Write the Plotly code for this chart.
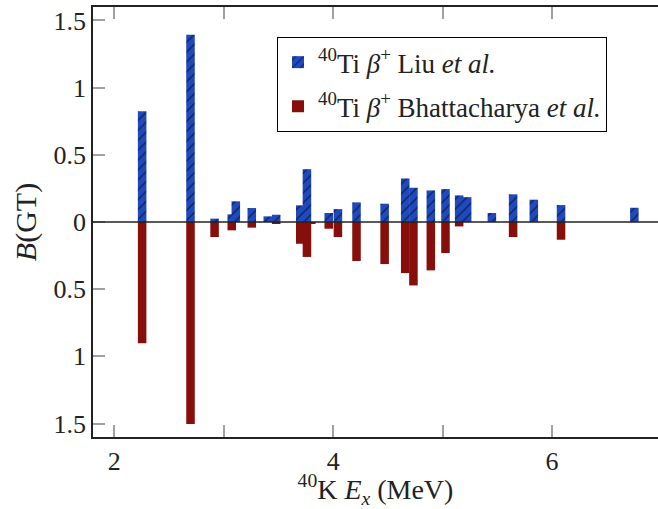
import plotly.graph_objects as go

# Excitation energies (MeV) and B(GT) values
liu_ex = [2.254, 2.696, 2.916, 3.073, 3.110, 3.256, 3.402, 3.479, 3.699, 3.760,
          3.959, 4.043, 4.213, 4.470, 4.658, 4.733, 4.892, 5.026, 5.151, 5.224,
          5.450, 5.644, 5.833, 6.082, 6.752]
liu_bgt = [0.824, 1.393, 0.025, 0.057, 0.154, 0.104, 0.042, 0.054, 0.124, 0.393,
           0.067, 0.096, 0.146, 0.136, 0.324, 0.255, 0.235, 0.245, 0.198, 0.185,
           0.067, 0.206, 0.166, 0.126, 0.106]

bh_ex = [2.254, 2.696, 2.916, 3.073, 3.256, 3.479, 3.699, 3.800, 3.760, 3.959,
         4.043, 4.213, 4.470, 4.658, 4.733, 4.892, 5.026, 5.151, 5.644, 6.082]
bh_bgt = [0.903, 1.503, 0.112, 0.062, 0.042, 0.010, 0.162, 0.012, 0.260, 0.050,
          0.112, 0.290, 0.313, 0.380, 0.472, 0.360, 0.231, 0.033, 0.112, 0.132]

x_tickvals = [2, 3, 4, 5, 6, 7]
x_ticktext = ["2", "", "4", "", "6", ""]
y_tickvals = [-1.5, -1.0, -0.5, 0, 0.5, 1.0, 1.5]
y_ticktext = ["1.5", "1", "0.5", "0", "0.5", "1", "1.5"]

BLUE = "#1f49bd"
RED = "#870f0b"
FONT = "Liberation Serif"
BAR_W = 0.078

fig = go.Figure()
fig.add_trace(go.Bar(
    x=liu_ex, y=liu_bgt, width=BAR_W,
    name="<sup>40</sup>Ti <i>β</i><sup>+</sup> Liu <i>et al.</i>",
    legendgroup="a",
    marker=dict(color=BLUE, line=dict(width=0),
                pattern=dict(shape="/", fgcolor="black", bgcolor=BLUE,
                             size=7, solidity=0.2, fillmode="overlay")),
))
fig.add_trace(go.Bar(
    x=bh_ex, y=[-v for v in bh_bgt], width=BAR_W,
    name="<sup>40</sup>Ti <i>β</i><sup>+</sup> Bhattacharya <i>et al.</i>",
    legendgroup="b",
    marker=dict(color=RED, line=dict(width=0)),
))

tickfont = dict(family=FONT, size=26, color="#222")
fig.update_layout(
    width=658, height=509,
    margin=dict(l=93, r=0, t=7, b=72),
    paper_bgcolor="white", plot_bgcolor="white",
    barmode="overlay",
    font=dict(family=FONT, color="#222"),
    showlegend=True,
    legend=dict(x=0.3257, y=0.93, xanchor="left", yanchor="top",
                bordercolor="black", borderwidth=1, bgcolor="white",
                font=dict(family=FONT, size=27, color="#222"),
                tracegroupgap=6, itemwidth=30),
    xaxis=dict(range=[1.805, 6.968], tickvals=x_tickvals, ticktext=x_ticktext,
               ticks="inside", ticklen=12, tickwidth=1.5, tickcolor="#a0a0a0",
               showline=True, linecolor="#222", linewidth=1.5, mirror="ticks",
               showgrid=False, zeroline=False, tickfont=tickfont,
               title=dict(text="<sup>40</sup>K <i>E</i><sub><i>x</i></sub> (MeV)",
                          font=dict(family=FONT, size=28, color="#222"), standoff=9)),
    yaxis=dict(range=[-1.6, 1.6], tickvals=y_tickvals, ticktext=y_ticktext,
               ticks="inside", ticklen=12, tickwidth=1.5, tickcolor="#a0a0a0",
               showline=True, linecolor="#222", linewidth=1.5, mirror=False,
               showgrid=False, zeroline=False, tickfont=tickfont,
               title=dict(text="<i>B</i>(GT)",
                          font=dict(family=FONT, size=30, color="#222"), standoff=8)),
    yaxis2=dict(range=[-1.6, 1.6], overlaying="y", side="right", matches="y",
                tickvals=y_tickvals, ticks="inside", ticklen=12, tickwidth=1.5,
                tickcolor="#a0a0a0", showticklabels=False, showline=False,
                showgrid=False, zeroline=False),
    shapes=[dict(type="line", xref="paper", x0=0, x1=1, yref="y", y0=0, y1=0,
                 line=dict(color="#222", width=1.3), layer="above")],
)

fig.write_html("out.html")
